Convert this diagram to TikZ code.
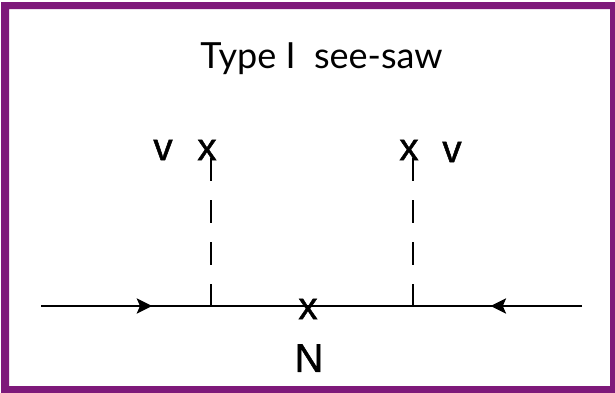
\documentclass[tikz,border=0pt]{standalone}
\usepackage{fontspec}
\setmainfont{Liberation Sans}
\newfontfamily\titlefont{Lato}
\newfontfamily\labelfont[FakeBold=1.2]{Liberation Sans}
\usetikzlibrary{arrows.meta,decorations.markings}
\definecolor{framepurple}{RGB}{126,25,122}
\tikzset{
  px/.style={x=0.75pt,y=-0.75pt},
  feyn/.style={draw=black,line width=1.5pt},
  scalar/.style={draw=black,line width=1.5pt,dash pattern=on 17.2pt off 14.3pt},
  lbl/.style={inner sep=0pt,font=\labelfont\fontsize{29}{31}\selectfont,text=black},
  fwdarrow/.style={postaction={decorate,decoration={markings,mark=at position #1 with {\arrow{Stealth[length=11.5pt,width=11.5pt,inset=2.5pt]}}}}},
  titlelbl/.style={inner sep=0pt,font=\titlefont\fontsize{27}{30}\selectfont,text=black}
}
\begin{document}
\begin{tikzpicture}[px]
\useasboundingbox (0,0) rectangle (615,393);
\fill[white] (0,0) rectangle (615,393);
\fill[framepurple,even odd rule] (1,2) rectangle (615,393) (9,9) rectangle (610,386);
\node[titlelbl] (title) at (321.5,58.5) {Type I\ \ see-saw};
\coordinate (startL) at (41,306);
\coordinate (vertL) at (210.5,306);
\coordinate (mid) at (308,306);
\coordinate (vertR) at (413,306);
\coordinate (endR) at (582,306);
\coordinate (topL) at (210.5,158);
\coordinate (topR) at (413,158);
\draw[feyn,fwdarrow=0.655] (startL) -- (vertL);
\draw[feyn] (vertL) -- (mid) -- (vertR);
\draw[feyn,fwdarrow=0.54] (endR) -- (vertR);
\draw[scalar] (topL) -- (vertL);
\draw[scalar] (topR) -- (vertR);
\node[lbl] (vl) at (163,150) {v};
\node[lbl] (xl) at (207,150) {x};
\node[lbl] (xr) at (409,150) {x};
\node[lbl] (vr) at (452,152) {v};
\node[lbl] (xm) at (308,309) {x};
\node[lbl,font=\labelfont\fontsize{30}{32}\selectfont] (n) at (309,358) {N};
\end{tikzpicture}
\end{document}
